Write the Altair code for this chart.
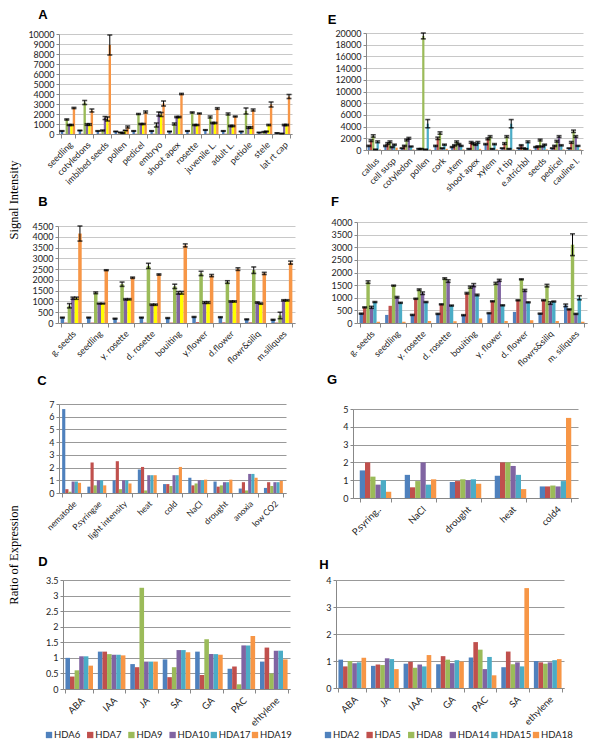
import altair as alt
import pandas as pd

# ---------------- data ----------------
S1 = ["HDA6", "HDA7", "HDA9", "HDA10", "HDA17", "HDA19"]
S2 = ["HDA2", "HDA5", "HDA8", "HDA14", "HDA15", "HDA18"]
COL1_AB = ["#4F81BD", "#C0504D", "#9BBB59", "#8064A2", "#FFFF00", "#F79646"]
COL = ["#4F81BD", "#C0504D", "#9BBB59", "#8064A2", "#4BACC6", "#F79646"]

A_cats = ["seedling", "cotyledons", "imbibed seeds", "pollen", "pedicel", "embryo", "shoot apex",
          "rosette", "juvenile L.", "adult L.", "petiole", "stele", "lat rt cap"]
A_HDA6 = [300, 350, 300, 250, 300, 300, 250, 300, 400, 300, 250, 150, 100]
A_HDA7 = [20, 30, 30, 20, 30, 30, 20, 20, 30, 30, 20, 20, 20]
A_HDA9 = [1450, 3150, 350, 150, 2000, 900, 1000, 2150, 1700, 2000, 2300, 200, 50]
A_HDA10 = [900, 950, 1600, 100, 1000, 2000, 1700, 900, 1100, 800, 650, 250, 900]
A_HDA17 = [900, 950, 1500, 350, 1000, 1950, 1700, 900, 1100, 800, 650, 900, 900]
A_HDA19 = [2600, 2350, 8900, 700, 2200, 3050, 4000, 2050, 2550, 1750, 2400, 2950, 3750]
A_E6 = [30, 30, 30, 30, 30, 30, 30, 30, 30, 30, 30, 20, 20]
A_E7 = [0] * 13
A_E9 = [60, 200, 50, 30, 50, 200, 100, 60, 100, 100, 300, 40, 20]
A_E10 = [50, 80, 150, 30, 50, 200, 60, 50, 60, 60, 80, 40, 60]
A_E17 = [50, 80, 200, 30, 50, 200, 60, 50, 60, 60, 80, 60, 60]
A_E19 = [60, 150, 1000, 100, 100, 250, 60, 50, 80, 50, 100, 250, 200]

B_cats = ["g. seeds", "seedling", "y. rosette", "d. rosette", "bouiting", "y.flower", "d.flower",
          "flowr&siliq", "m.siliques"]
B_HDA6 = [250, 250, 200, 250, 230, 280, 270, 170, 150]
B_HDA7 = [20, 20, 20, 20, 20, 40, 30, 30, 20]
B_HDA9 = [800, 1400, 1800, 2650, 1700, 2300, 1900, 2450, 350]
B_HDA10 = [1150, 900, 1100, 850, 1400, 950, 1000, 950, 1050]
B_HDA17 = [1150, 900, 1100, 850, 1400, 950, 1000, 900, 1050]
B_HDA19 = [4150, 2450, 2100, 2250, 3600, 2200, 2500, 2300, 2800]
B_E6 = [20, 20, 20, 20, 20, 20, 20, 20, 20]
B_E7 = [0] * 9
B_E9 = [100, 40, 100, 120, 100, 100, 60, 150, 150]
B_E10 = [50, 20, 30, 30, 60, 40, 30, 30, 30]
B_E17 = [50, 20, 30, 30, 60, 40, 30, 30, 30]
B_E19 = [350, 20, 30, 30, 70, 50, 60, 50, 70]

C_cats = ["nematode", "P.syringae", "light intensity", "heat", "cold", "NaCl", "drought", "anoxia", "low CO2"]
C_HDA6 = [6.6, 0.5, 1.0, 1.85, 0.7, 1.2, 0.9, 0.35, 0.4]
C_HDA7 = [0.3, 2.4, 2.5, 2.05, 0.7, 0.6, 0.5, 0.85, 0.85]
C_HDA9 = [0.1, 0.6, 0.3, 0.2, 0.55, 0.75, 0.6, 0.2, 0.55]
C_HDA10 = [0.9, 1.0, 1.0, 1.4, 1.4, 1.0, 0.85, 1.5, 0.85]
C_HDA17 = [0.9, 1.0, 1.0, 1.4, 1.4, 1.0, 0.85, 1.5, 0.85]
C_HDA19 = [0.8, 0.6, 0.75, 1.4, 2.05, 1.05, 1.05, 1.2, 0.95]

D_cats = ["ABA", "IAA", "JA", "SA", "GA", "PAC", "ehtylene"]
D_HDA6 = [1.0, 1.2, 0.8, 0.95, 1.2, 0.65, 0.88]
D_HDA7 = [0.4, 1.2, 0.7, 0.38, 0.45, 0.72, 1.33]
D_HDA9 = [0.6, 1.12, 3.25, 0.7, 1.6, 0.15, 0.5]
D_HDA10 = [1.05, 1.1, 0.88, 1.25, 1.12, 1.4, 1.23]
D_HDA17 = [1.05, 1.1, 0.88, 1.25, 1.12, 1.4, 1.23]
D_HDA19 = [0.75, 1.08, 0.88, 1.18, 1.1, 1.7, 0.95]

E_cats = ["callus", "cell susp", "cotyledon", "pollen", "cork", "stem", "shoot apex", "xylem",
          "rt tip", "e.atrichbl", "seeds", "pedicel", "cauline l."]
E_HDA2 = [700, 700, 300, 200, 700, 500, 200, 1000, 300, 300, 500, 300, 300]
E_HDA5 = [1600, 1100, 700, 200, 2000, 800, 1300, 1900, 1100, 800, 600, 700, 1300]
E_HDA8 = [2400, 1400, 1700, 19500, 2900, 1400, 1100, 2300, 2300, 300, 1700, 1500, 3200]
E_HDA14 = [100, 500, 2000, 100, 300, 1000, 900, 200, 200, 200, 600, 2300, 2300]
E_HDA15 = [1400, 900, 600, 4500, 900, 700, 1300, 1000, 4500, 1400, 900, 800, 700]
E_HDA18 = [100, 400, 100, 100, 200, 100, 200, 100, 100, 100, 100, 100, 100]
E_E2 = [100, 100, 50, 50, 100, 80, 50, 100, 50, 50, 80, 50, 50]
E_E5 = [150, 150, 100, 50, 200, 100, 150, 150, 150, 100, 100, 100, 150]
E_E8 = [200, 150, 150, 500, 200, 150, 150, 150, 150, 50, 150, 150, 200]
E_E14 = [20, 80, 150, 20, 50, 100, 100, 50, 50, 50, 80, 150, 150]
E_E15 = [150, 100, 80, 700, 100, 80, 150, 100, 700, 150, 100, 100, 80]
E_E18 = [0] * 13

F_cats = ["g. seeds", "seedling", "y. rosette", "d. rosette", "bouiting", "y. flower", "d. flower",
          "flowrs&siliq", "m. siliques"]
F_HDA2 = [370, 320, 320, 360, 310, 390, 440, 370, 700]
F_HDA5 = [620, 680, 960, 740, 1180, 860, 900, 900, 540]
F_HDA8 = [1620, 1480, 1320, 1760, 1420, 1570, 1730, 1480, 3100]
F_HDA14 = [620, 1020, 1180, 1660, 1500, 1690, 1290, 790, 360]
F_HDA15 = [830, 800, 830, 690, 1110, 700, 820, 850, 1000]
F_HDA18 = [50, 50, 80, 70, 180, 80, 110, 80, 50]
F_E2 = [20, 0, 20, 20, 20, 20, 0, 20, 50]
F_E5 = [20, 0, 20, 20, 30, 20, 20, 20, 20]
F_E8 = [50, 20, 30, 30, 40, 40, 20, 50, 430]
F_E14 = [40, 30, 50, 50, 60, 40, 40, 50, 20]
F_E15 = [20, 20, 20, 20, 30, 20, 20, 20, 80]
F_E18 = [0] * 9

G_cats = ["P.syring..", "NaCl", "drought", "heat", "cold4"]
G_HDA2 = [1.55, 1.3, 0.9, 1.25, 0.65]
G_HDA5 = [2.0, 0.6, 0.95, 2.0, 0.65]
G_HDA8 = [1.2, 0.95, 1.05, 2.0, 0.7]
G_HDA14 = [0.75, 2.0, 1.0, 1.8, 0.65]
G_HDA15 = [1.0, 0.75, 1.05, 1.3, 0.95]
G_HDA18 = [0.35, 1.05, 0.8, 0.5, 4.5]

H_cats = ["ABA", "JA", "IAA", "GA", "PAC", "SA", "ethylene"]
H_HDA2 = [1.05, 0.82, 0.9, 0.88, 1.13, 0.77, 1.0]
H_HDA5 = [0.8, 0.87, 0.97, 1.18, 1.7, 1.35, 0.95]
H_HDA8 = [1.0, 0.85, 0.75, 1.05, 1.42, 0.88, 0.9]
H_HDA14 = [0.92, 1.1, 0.87, 0.92, 0.7, 0.95, 0.95]
H_HDA15 = [0.95, 1.07, 0.8, 1.03, 1.15, 0.8, 1.03]
H_HDA18 = [1.12, 0.7, 1.22, 0.98, 0.47, 3.7, 1.07]

FONT = "Lato"
RES = dict(color="independent", xOffset="independent", x="independent", y="independent")


def make_df(cats, series, vals, errs=None):
    rows = []
    for i, s in enumerate(series):
        for j, c in enumerate(cats):
            v = vals[i][j]
            e = errs[i][j] if errs else 0
            rows.append(dict(cat=c, ser=s, val=v, lo=max(v - e, 0), hi=v + e, err=e))
    return pd.DataFrame(rows)


def frame(x1, x2, y1, y2):
    # invisible rectangle that fixes a view's layout bounds
    return alt.Chart(pd.DataFrame({"a": [0]})).mark_rect(opacity=0).encode(
        x=alt.value(x1), x2=alt.value(x2), y=alt.value(y1), y2=alt.value(y2))


def spacer():
    return frame(0, 1, 0, 1).properties(width=1, height=1)


def legend_layer(series, colors, x0, x1, y):
    ldf = pd.DataFrame({"ser": series})
    xs = alt.X("ser:N", sort=series, axis=None, scale=alt.Scale(type="point", range=[x0, x1], padding=0))
    cs = alt.Color("ser:N", sort=series, scale=alt.Scale(domain=series, range=colors), legend=None)
    sq = alt.Chart(ldf).mark_square(size=40, opacity=1).encode(x=xs, y=alt.value(y), color=cs)
    tx = alt.Chart(ldf).mark_text(align="left", dx=5, fontSize=9.5, font=FONT, color="#222").encode(
        x=xs, y=alt.value(y), text="ser:N")
    return [sq, tx]


def panel(cats, series, vals, errs, colors, ymax, ystep, w, h, letter, lpos, fr,
          grid="#c8c8c8", xfs=9, pad=0.2, leg=None):
    df = make_df(cats, series, vals, errs)
    yt = []
    t = 0.0
    while t <= ymax + 1e-9:
        yt.append(round(t, 3))
        t += ystep
    xenc = alt.X("cat:N", sort=cats, title=None,
                 scale=alt.Scale(paddingInner=pad, paddingOuter=pad / 2),
                 axis=alt.Axis(labelAngle=-45, labelFontSize=xfs, labelFont=FONT, labelColor="#222",
                               labelOverlap=False, labelLimit=200, tickBand="extent", tickSize=4,
                               domainColor="#888", tickColor="#888", labelPadding=2))
    yscale = alt.Scale(domain=[0, ymax], nice=False)
    yaxis = alt.Axis(values=yt, labelExpr="'' + datum.value", grid=True, gridColor=grid,
                     domainColor="#888", tickColor="#888", tickSize=3, labelFontSize=9,
                     labelFont=FONT, labelColor="#222", labelPadding=2, labelOverlap=False)
    base = alt.Chart(df).encode(x=xenc, xOffset=alt.XOffset("ser:N", sort=series,
                                                           scale=alt.Scale(paddingInner=0, paddingOuter=0)))
    bars = base.mark_bar().encode(
        y=alt.Y("val:Q", scale=yscale, axis=yaxis, title=None),
        color=alt.Color("ser:N", sort=series, scale=alt.Scale(domain=series, range=colors),
                        legend=None),
    )
    layers = [frame(*fr), bars]
    if errs:
        eb = base.transform_filter("datum.err > 0")
        layers.append(eb.mark_rule(color="black", strokeWidth=1).encode(
            y=alt.Y("lo:Q", scale=yscale, axis=yaxis, title=None), y2=alt.Y2("hi:Q", title=None)))
        layers.append(eb.mark_tick(color="black", thickness=1.6, size=5).encode(
            y=alt.Y("hi:Q", scale=yscale, axis=yaxis, title=None)))
        layers.append(eb.mark_tick(color="black", thickness=1.6, size=5).encode(
            y=alt.Y("lo:Q", scale=yscale, axis=yaxis, title=None)))
    lt = alt.Chart(pd.DataFrame({"t": [letter]})).mark_text(
        fontWeight="bold", fontSize=13, font="Liberation Sans", color="black").encode(
        x=alt.value(lpos[0]), y=alt.value(lpos[1]), text="t:N")
    layers.append(lt)
    ch = alt.layer(*layers)
    if leg:
        ch = alt.layer(ch, *legend_layer(series, colors, *leg)).resolve_scale(
            x="independent", color="independent")
    ch = ch.properties(width=w, height=h)
    # a 1px spacer first, so the panel is placed by its frame
    return alt.hconcat(spacer(), ch, spacing=0).resolve_scale(**RES)


# page layout: side column x 8..26, left column 26..318, right column 318..591
A = panel(A_cats, S1, [A_HDA6, A_HDA7, A_HDA9, A_HDA10, A_HDA17, A_HDA19],
          [A_E6, A_E7, A_E9, A_E10, A_E17, A_E19], COL1_AB, 10000, 1000, 233, 100, "A", (-16, -19),
          (-32, 259, -25, 156))
B = panel(B_cats, S1, [B_HDA6, B_HDA7, B_HDA9, B_HDA10, B_HDA17, B_HDA19],
          [B_E6, B_E7, B_E9, B_E10, B_E17, B_E19], COL1_AB, 4500, 500, 237, 97, "B", (-15, -24),
          (-31, 260, -36, 146))
C = panel(C_cats, S1, [C_HDA6, C_HDA7, C_HDA9, C_HDA10, C_HDA17, C_HDA19], None, COL,
          7, 1, 227, 89, "C", (-17, -23), (-32, 259, -32, 144), grid="#999999", xfs=8.5, pad=0.25)
D = panel(D_cats, S1, [D_HDA6, D_HDA7, D_HDA9, D_HDA10, D_HDA17, D_HDA19], None, COL,
          3.5, 0.5, 227, 109, "D", (-20, -18), (-36, 255, -32, 168), grid="#999999", xfs=9.5,
          pad=0.15, leg=(-14, 192, 155))
E = panel(E_cats, S2, [E_HDA2, E_HDA5, E_HDA8, E_HDA14, E_HDA15, E_HDA18],
          [E_E2, E_E5, E_E8, E_E14, E_E15, E_E18], COL, 20000, 2000, 217, 117, "E", (-34, -13),
          (-47, 225, -24, 161))
F = panel(F_cats, S2, [F_HDA2, F_HDA5, F_HDA8, F_HDA14, F_HDA15, F_HDA18],
          [F_E2, F_E5, F_E8, F_E14, F_E15, F_E18], COL, 4000, 500, 230, 101, "F", (-22, -20),
          (-38, 234, -28, 150))
G = panel(G_cats, S2, [G_HDA2, G_HDA5, G_HDA8, G_HDA14, G_HDA15, G_HDA18], None, COL,
          5, 1, 225, 89, "G", (-21, -29), (-34, 238, -37, 139), grid="#999999", xfs=9.5, pad=0.3)
H = panel(H_cats, S2, [H_HDA2, H_HDA5, H_HDA8, H_HDA14, H_HDA15, H_HDA18], None, COL,
          4, 1, 228, 108, "H", (-12, -15), (-16, 256, -32, 168), grid="#999999", xfs=9.5,
          pad=0.15, leg=(-8, 200, 155))

side = alt.layer(
    frame(0, 18, 0, 740),
    alt.Chart(pd.DataFrame({"t": ["Signal Intensity"]})).mark_text(
        angle=270, font="Liberation Serif", fontSize=12.5, color="black").encode(
        x=alt.value(6), y=alt.value(192), text="t:N"),
    alt.Chart(pd.DataFrame({"t": ["Ratio of Expression"]})).mark_text(
        angle=270, font="Liberation Serif", fontSize=12.5, color="black").encode(
        x=alt.value(6), y=alt.value(547), text="t:N"),
).properties(width=18, height=740)

left = alt.vconcat(spacer(), A, B, C, D, spacing=0).resolve_scale(**RES)
right = alt.vconcat(spacer(), E, F, G, H, spacing=0).resolve_scale(**RES)

chart = alt.hconcat(side, left, right, spacing=0).resolve_scale(**RES).properties(
    padding=0, background="white").configure_view(stroke=None)

chart.save("out.html", embed_options={"renderer": "svg", "actions": False})
